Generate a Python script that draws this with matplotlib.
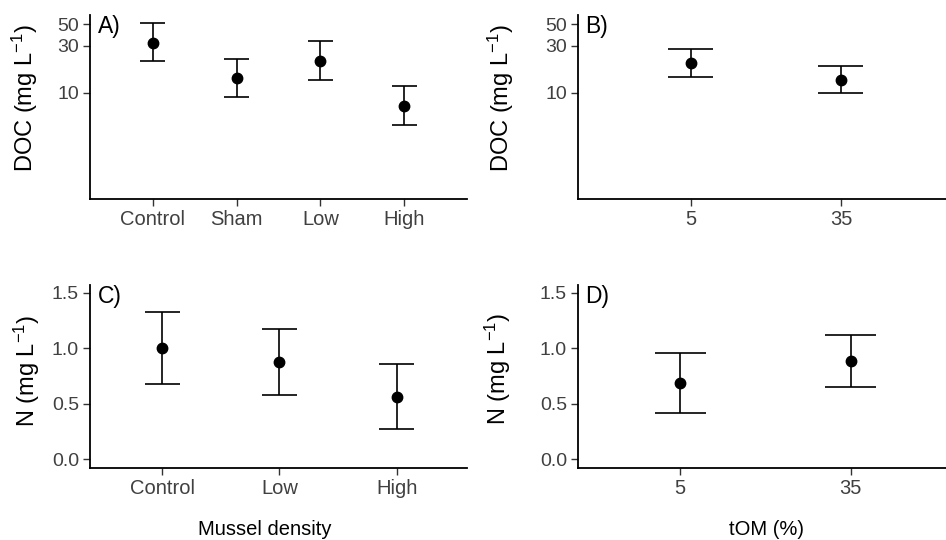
import numpy as np
import matplotlib
matplotlib.use("Agg")
import matplotlib.pyplot as plt

plt.rcParams['font.family'] = ['Liberation Sans', 'DejaVu Sans']
plt.rcParams['mathtext.default'] = 'regular'

# panel A: DOC by mussel density (log axis)
dens4 = ["Control", "Sham", "Low", "High"]
doc_dens_mean = [32.4, 14.0, 20.9, 7.4]
doc_dens_lo = [21.0, 9.0, 13.4, 4.7]
doc_dens_hi = [51.8, 22.2, 33.4, 11.7]

# panel B: DOC by tOM
tom = ["5", "35"]
doc_tom_mean = [20.1, 13.6]
doc_tom_lo = [14.5, 9.85]
doc_tom_hi = [27.8, 18.9]

# panel C: N by mussel density
dens3 = ["Control", "Low", "High"]
n_dens_mean = [1.00, 0.877, 0.563]
n_dens_lo = [0.678, 0.581, 0.271]
n_dens_hi = [1.331, 1.172, 0.855]

# panel D: N by tOM
n_tom_mean = [0.690, 0.886]
n_tom_lo = [0.419, 0.654]
n_tom_hi = [0.961, 1.117]

W, H = 946, 540
fig = plt.figure(figsize=(W / 100, H / 100), dpi=100)

def px_axes(left, top, right, bottom):
    return fig.add_axes([left / W, 1 - bottom / H, (right - left) / W, (bottom - top) / H])

def panel(ax, cats, mean, lo, hi, xlim, letter):
    x = np.arange(1, len(cats) + 1)
    ax.vlines(x, lo, hi, color='black', lw=1.2, zorder=2)
    ax.hlines(lo, x - 0.15, x + 0.15, color='black', lw=1.2, zorder=2)
    ax.hlines(hi, x - 0.15, x + 0.15, color='black', lw=1.2, zorder=2)
    ax.plot(x, mean, 'o', color='black', ms=7.5, zorder=3)
    ax.set_xticks(x)
    ax.set_xticklabels(cats)
    ax.set_xlim(*xlim)
    for s in ['top', 'right']:
        ax.spines[s].set_visible(False)
    for s in ['left', 'bottom']:
        ax.spines[s].set_linewidth(1.3)
    ax.tick_params(axis='both', which='major', length=5, width=1.0, color='#333333',
                   labelcolor='#404040', pad=3)
    ax.tick_params(axis='x', labelsize=14.5)
    ax.tick_params(axis='y', labelsize=14)
    ax.tick_params(axis='both', which='minor', length=0)
    ax.text(0.02, 1.0, letter, transform=ax.transAxes, ha='left', va='top',
            fontsize=16.5, color='black')

axA = px_axes(90, 15, 467, 199)
panel(axA, dens4, doc_dens_mean, doc_dens_lo, doc_dens_hi, (0.25, 4.75), "A)")
axB = px_axes(578, 15, 946, 199)
panel(axB, tom, doc_tom_mean, doc_tom_lo, doc_tom_hi, (0.247, 2.7), "B)")
for ax in (axA, axB):
    ax.set_yscale('log')
    ax.set_ylim(0.83, 62)
    ax.set_yticks([10, 30, 50])
    ax.set_yticklabels(['10', '30', '50'])
    ax.yaxis.set_minor_locator(matplotlib.ticker.NullLocator())
    ax.set_ylabel("DOC (mg L$^{-1}$)", fontsize=17)

axC = px_axes(90, 285, 467, 468)
panel(axC, dens3, n_dens_mean, n_dens_lo, n_dens_hi, (0.385, 3.6), "C)")
axD = px_axes(578, 285, 946, 468)
panel(axD, tom, n_tom_mean, n_tom_lo, n_tom_hi, (0.4, 2.56), "D)")
for ax in (axC, axD):
    ax.set_ylim(-0.078, 1.57)
    ax.set_yticks([0.0, 0.5, 1.0, 1.5])
    ax.set_yticklabels(['0.0', '0.5', '1.0', '1.5'])
    ax.set_ylabel("N (mg L$^{-1}$)", fontsize=17)

axA.yaxis.set_label_coords(-0.133, 0.546)
axB.yaxis.set_label_coords(-0.168, 0.546)
axC.yaxis.set_label_coords(-0.127, 0.53)
axD.yaxis.set_label_coords(-0.177, 0.54)

axC.set_xlabel("Mussel density", fontsize=14.5)
axD.set_xlabel("tOM (%)", fontsize=14.5)
axC.xaxis.set_label_coords(0.464, -0.285)
axD.xaxis.set_label_coords(0.511, -0.285)

fig.savefig("out.png", dpi=100)
